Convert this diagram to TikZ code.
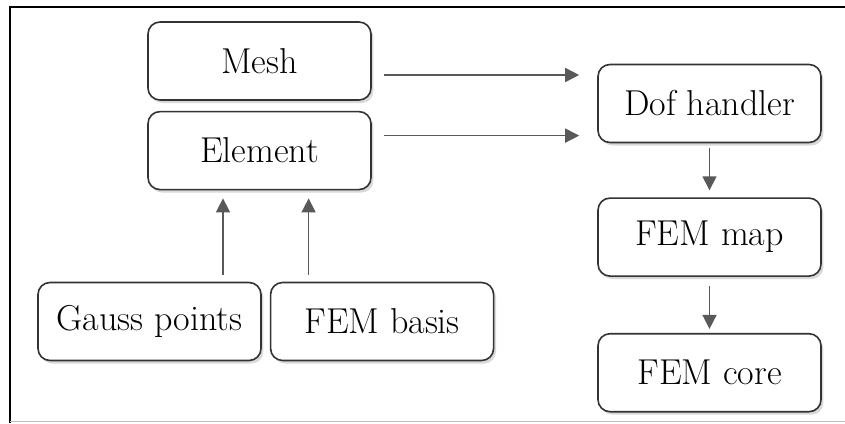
\documentclass[tikz,border=0pt]{standalone}
\usepackage{fontspec}
\usepackage{tikz}
\usetikzlibrary{arrows.meta, positioning, shadows}

\begin{document}
\begin{tikzpicture}[
        block/.style={rectangle, draw=black!80, line width=0.8pt, fill=white, rounded corners=6pt,
            minimum width=111.5pt, minimum height=39pt, inner sep=0pt,
            font=\fontsize{18}{21}\selectfont,
            drop shadow={opacity=0.3, shadow xshift=1.2pt, shadow yshift=-1.5pt}},
        arrow/.style={-{Triangle[length=7pt, width=7pt]}, draw=black!65, line width=0.8pt}
    ]
    \useasboundingbox (0,0) rectangle (422.5pt,-211.5pt);

    % frame
    \draw[line width=1pt] (4.75pt,-211.5pt) -- (4.75pt,-3.25pt) -- (422.5pt,-3.25pt);
    \draw[black!25, line width=0.6pt] (4.75pt,-210.75pt) -- (422.5pt,-210.75pt);

    % nodes
    \node[block] (mesh) at (129.75pt,-30.5pt) {Mesh};
    \node[block, below=5pt of mesh] (element) {Element};
    \node[block] (gauss) at (74.75pt,-160.75pt) {Gauss points};
    \node[block, right=4pt of gauss] (basis) {FEM basis};
    \node[block] (dof) at (354.75pt,-51.75pt) {Dof handler};
    \node[block, below=27pt of dof] (map) {FEM map};
    \node[block, below=28pt of map] (core) {FEM core};

    % helper points
    \coordinate (m1) at ([xshift=6pt, yshift=-7pt]mesh.east);
    \coordinate (e1) at ([xshift=6pt, yshift=7.5pt]element.east);
    \coordinate (g1) at ([xshift=36.75pt, yshift=3.5pt]gauss.north);
    \coordinate (b1) at ([xshift=-36.75pt, yshift=3.5pt]basis.north);

    % connections
    \draw[arrow] (m1) -- ([xshift=-9pt]m1 -| dof.west);
    \draw[arrow] (e1) -- ([xshift=-9pt]e1 -| dof.west);
    \draw[arrow] (g1) -- ([yshift=-4pt]g1 |- element.south);
    \draw[arrow] (b1) -- ([yshift=-4pt]b1 |- element.south);
    \draw[arrow, shorten <=2.5pt, shorten >=3.5pt] (dof) -- (map);
    \draw[arrow, shorten <=4.5pt, shorten >=2pt] (map) -- (core);

\end{tikzpicture}
\end{document}
